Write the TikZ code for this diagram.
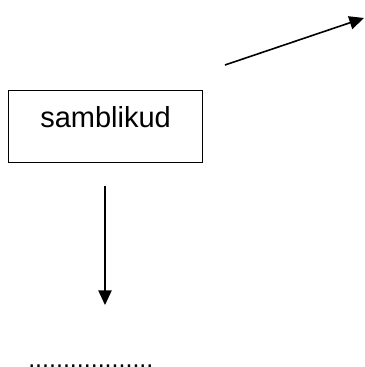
\documentclass[tikz,border=0pt]{standalone}
\usepackage{fontspec}
\setmainfont{Liberation Sans}
\usetikzlibrary{arrows.meta}

\tikzset{
  namebox/.style={draw, line width=0.8pt, inner sep=0pt, minimum width=145.5pt,
    text height=27.75pt, text depth=26.25pt, font=\fontsize{21.75}{26}\selectfont},
  arrowline/.style={line width=1.2pt, -{Triangle[length=11pt,width=10pt]}},
}

\begin{document}
\begin{tikzpicture}[x=0.75pt,y=0.75pt,yscale=-1,xscale=1]
\path[use as bounding box] (0,0) rectangle (364,367); %set diagram size

% Box
\node[namebox, anchor=north west] (samblikud) at (8,90) {samblikud};

% Dots
\node[anchor=base west, inner sep=0pt, font=\fontsize{18.75}{22}\selectfont] (dots) at (28,367.5) {..................};

% Arrows
\coordinate (upstart) at (225,65);
\coordinate (uptip) at (364,18);
\draw[arrowline] (upstart) -- (uptip);

\coordinate (downstart) at (105,186);
\coordinate (downtip) at (105,305);
\draw[arrowline] (downstart) -- (downtip);

\end{tikzpicture}
\end{document}
